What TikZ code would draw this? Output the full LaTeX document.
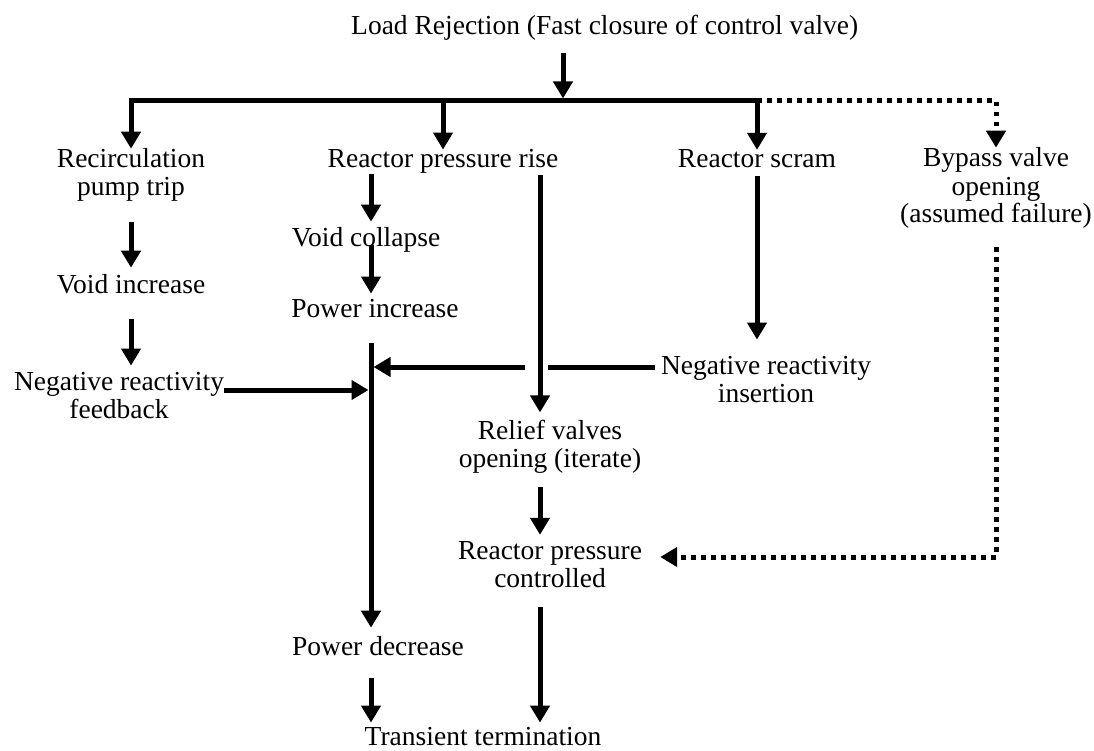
\documentclass[tikz,border=0pt]{standalone}
\usepackage{fontspec}
\setmainfont{Liberation Serif}
\usetikzlibrary{arrows.meta}
\begin{document}
\begin{tikzpicture}[x=1pt,y=-1pt,
  lbl/.style={inner sep=0pt, font=\fontsize{27.5}{28}\selectfont, align=center, anchor=base},
  flow/.style={line width=5pt, -{Triangle[width=19pt,length=17pt]}},
  plain/.style={line width=5pt},
  dotflow/.style={line width=5pt, dash pattern=on 4.5pt off 5.5pt,
                  -{Triangle[width=19pt,length=17pt]}}]
\useasboundingbox[fill=white] (0,0) rectangle (1094,751);

% column positions of the vertical connectors
\coordinate (colA) at (131,0);
\coordinate (colB) at (371,0);
\coordinate (colC) at (540,0);
\coordinate (colD) at (757,0);
\coordinate (colE) at (996,0);

% labels (multi-line labels are placed by the baseline of their last line)
\node[lbl, anchor=base west] (title) at (351,35) {Load Rejection (Fast closure of control valve)};
\node[lbl] (recirc)  at (131,196) {Recirculation\\pump trip};
\node[lbl] (rpr)     at (443,168) {Reactor pressure rise};
\node[lbl] (scram)   at (757,168) {Reactor scram};
\node[lbl] (bypass)  at (996,223) {Bypass valve\\opening\\(assumed failure)};
\node[lbl] (voidinc) at (131,293) {Void increase};
\node[lbl] (nrf)     at (119,418) {Negative reactivity\\feedback};
\node[lbl] (voidcol) at (366,247) {Void collapse};
\node[lbl] (powinc)  at (375,317) {Power increase};
\node[lbl] (nri)     at (766,402) {Negative reactivity\\insertion};
\node[lbl] (relief)  at (550,467) {Relief valves\\opening (iterate)};
\node[lbl] (rpc)     at (550,587) {Reactor pressure\\controlled};
\node[lbl] (powdec)  at (378,655) {Power decrease};
\node[lbl] (trans)   at (483,745) {Transient termination};

% junctions on the distribution bus
\coordinate (jTop)    at (563,101);
\coordinate (jScram)  at (757,101);
\coordinate (jBypass) at (996,101);
\coordinate (jPress)  at (443,101);

% crossing of the insertion line with the relief branch
\coordinate (gapL) at (525,367);
\coordinate (gapR) at (548,367);
\coordinate (hitIns) at (373.5,367);
\coordinate (hitFb)  at (368.5,390);
\coordinate (dotCorner) at (996,557);

% main trigger onto the bus
\draw[flow, shorten <=12pt, shorten >=2.5pt] (title.south -| jTop) -- (jTop);
\draw[flow, line join=miter] (jScram) -| (recirc.north);
\draw[flow] (jPress) -- (rpr.north);
\draw[flow] (jScram) -- (scram.north);
\draw[dotflow] (jScram) -| (bypass.north);

% recirculation branch
\draw[flow, shorten <=20pt, shorten >=6pt] (recirc.south) -- (voidinc.north);
\draw[flow, shorten <=25pt, shorten >=6pt] (voidinc.south) -- (voidinc.south |- nrf.north);
\draw[flow] (nrf.east |- hitFb) -- (hitFb);

% pressure branch
\draw[flow, shorten >=6pt] (rpr.south -| colB) -- (voidcol.north -| colB);
\draw[flow, shorten <=4.5pt, shorten >=5pt] (voidcol.center -| colB) -- (powinc.north -| colB);
\draw[flow, shorten <=26pt, shorten >=8pt] (powinc.south -| colB) -- (powdec.north -| colB);
\draw[flow, shorten <=23pt, shorten >=4pt] (powdec.south -| colB) -- (trans.north -| colB);

% relief valve branch
\draw[flow, shorten <=1pt, shorten >=7pt] (rpr.south -| colC) -- (relief.north -| colC);
\draw[flow, shorten <=14pt, shorten >=6pt] (relief.south -| colC) -- (rpc.north -| colC);
\draw[flow, shorten <=20pt, shorten >=4pt] (rpc.south -| colC) -- (trans.north -| colC);

% scram branch
\draw[flow, shorten <=8pt, shorten >=16pt] (scram.south) -- (scram.south |- nri.north);
\draw[plain, shorten <=6pt] (nri.west |- gapR) -- (gapR);
\draw[flow] (gapL) -- (hitIns);

% bypass (failed) path
\draw[dotflow, shorten <=18pt, shorten >=18pt] (bypass.south) -- (dotCorner) -- (rpc.east |- dotCorner);
\end{tikzpicture}
\end{document}
